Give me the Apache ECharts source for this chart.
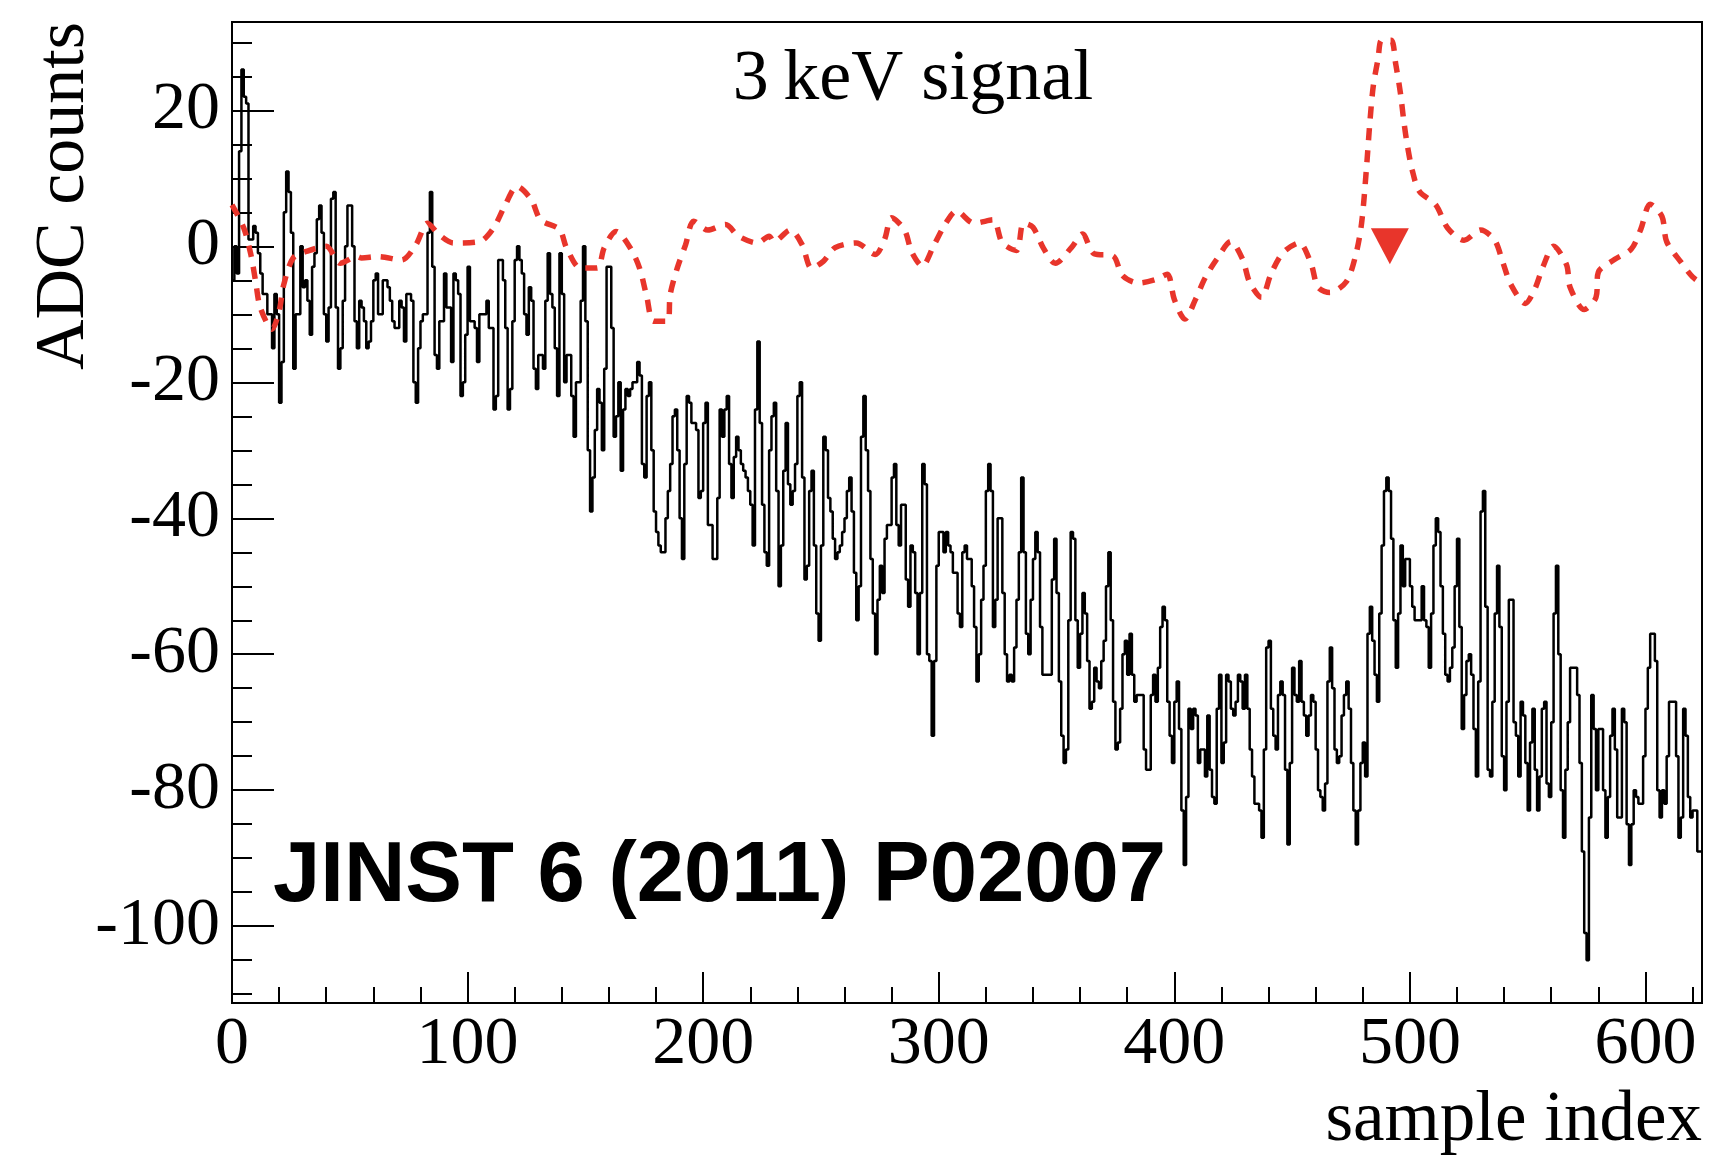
<!DOCTYPE html>
<html><head><meta charset="utf-8">
<script src="https://cdn.jsdelivr.net/npm/echarts@6/dist/echarts.min.js"></script>
<style>html,body{margin:0;padding:0;background:#fff}#c{width:1711px;height:1155px}</style>
</head><body><div id="c"></div>
<script>
// ADC counts per sample (sample index 0..623)
const adcCounts = [
 -5, 0, -4, 14, 26, 22, 21, 1, 1, 3, 2, -1, -4, -7, -7, -10, -10, -15, -7, -10,
 -23, -17, 5, 11, 8, 2, -18, -10, -10, 0, -6, -5, -8, -13, -3, -1, 4, 6, 2, -10,
 -14, -9, 7, 8, -9, -18, -15, -8, 0, 6, 6, 0, -11, -15, -8, -9, -11, -15,
 -14, -11, -5, -4, -10, -10, -5, -5, -6, -8, -11, -12, -12, -8, -9, -14, -7, -7, -8, -20,
 -23, -15, -11, -10, -10, 2, 8, -3, -16, -18, -11, -11, -4, -9, -9, -17, -4, -5, -7, -22,
 -20, -13, -3, -11, -11, -12, -17, -10, -10, -10, -8, -12, -12, -24, -22, -2, -2,
 -5, -12, -24, -21, -11, -2, 0, -2, -4, -10, -13, -6, -8, -18, -21, -16, -16, -18, -8, -1,
 -7, -9, -15, -22, -1, -7, -20, -16, -16, -22, -28, -20, -20, -8, 0, -11, -30, -39, -34, -27,
 -21, -23, -30, -18, -3, -3, -12, -28, -25, -20, -33, -24, -21, -22, -21, -20, -20,
 -17, -19, -32, -34, -22, -20, -30, -39, -42, -44, -45, -45, -40, -36, -32, -25, -24, -30, -40, -46,
 -32, -22, -23, -26, -26, -27, -37, -36, -26, -23, -41, -41, -46, -46, -37, -24, -28, -24, -22, -32,
 -37, -31, -28, -30, -32, -33, -34, -36, -38, -44, -24, -14, -26, -38, -45, -47, -30,
 -25, -23, -36, -50, -44, -33, -26, -35, -38, -36, -32, -22, -20, -34, -49, -47, -36, -33, -44, -54,
 -58, -44, -28, -30, -37, -39, -43, -46, -45, -44, -42, -40, -36, -34, -39, -48, -55, -50, -28, -22,
 -30, -36, -46, -54, -60, -52, -47, -51, -43, -41, -41, -34, -32, -41, -44, -38, -38,
 -49, -53, -44, -45, -51, -60, -51, -32, -35, -60, -61, -72, -61, -47, -42, -42, -45, -42, -44, -45,
 -48, -48, -54, -56, -45, -44, -46, -46, -50, -56, -64, -60, -52, -47, -36, -32, -36, -56, -52, -40,
 -40, -51, -60, -64, -63, -64, -59, -52, -45, -34, -45, -57, -60, -52, -46, -42,
 -45, -56, -63, -63, -63, -63, -49, -43, -51, -64, -72, -76, -74, -55, -42, -43, -55, -62, -57, -51,
 -54, -61, -68, -67, -62, -64, -65, -61, -58, -50, -45, -55, -67, -74, -73, -68, -60, -58, -63, -57,
 -63, -67, -66, -66, -66, -74, -77, -77, -66, -63, -67, -62, -56, -53, -55, -67, -72,
 -76, -67, -64, -71, -83, -91, -81, -68, -71, -68, -69, -76, -74, -74, -78, -69, -77, -81, -82, -68,
 -63, -76, -73, -63, -64, -68, -69, -67, -63, -64, -68, -63, -68, -74, -78, -82, -82, -83, -87, -74,
 -59, -58, -68, -72, -74, -66, -64, -66, -77, -88, -76, -62, -66, -67, -61, -67, -69,
 -72, -69, -66, -67, -74, -80, -81, -83, -79, -64, -59, -65, -74, -76, -75, -69, -66, -64, -68, -76,
 -83, -88, -83, -76, -73, -78, -57, -53, -58, -63, -67, -54, -44, -36, -34, -36, -43, -55, -62, -54,
 -44, -50, -46, -46, -50, -53, -55, -55, -55, -50, -55, -56, -62, -54, -44, -40, -42,
 -50, -57, -63, -64, -62, -59, -50, -43, -56, -71, -66, -61, -60, -63, -71, -78, -64, -39, -36, -53,
 -77, -78, -67, -54, -47, -56, -75, -80, -67, -52, -52, -70, -72, -78, -67, -69, -76, -83, -73, -68,
 -77, -83, -78, -68, -67, -79, -81, -70, -54, -47, -60, -80, -87, -77, -70, -62, -62,
 -62, -66, -76, -89, -101, -105, -84, -66, -71, -80, -71, -71, -80, -87, -81, -72, -68, -74, -84, -84,
 -68, -70, -85, -91, -85, -80, -81, -82, -82, -75, -68, -62, -57, -57, -61, -80, -84, -80, -82, -75,
 -67, -67, -67, -75, -87, -84, -68, -72, -81, -84, -83, -83, -89, -89
];
// Filtered (red dashed) signal: sample positions and values
const filteredX = [0, 5, 8, 10, 12, 17, 20, 22, 26, 32, 40, 46, 53, 55, 62, 72, 78, 83, 88, 94,
 105, 111, 116, 121, 127, 131, 139, 142, 148, 155, 158, 163, 169, 173, 176, 179, 185, 186, 189, 192.5,
 196, 202, 209.5, 215, 223, 228, 230, 237, 242, 246, 251, 256, 265, 273, 277, 280, 285.5, 288.5, 293, 298,
 303, 307.5, 315, 323, 327, 333, 336, 340, 344.5, 349.5, 356.5, 361, 366, 374, 378, 385, 392, 397, 400, 404.5,
 409, 413, 418, 424, 429, 432, 437, 441, 446, 453, 458, 461, 466, 473, 477, 479.5, 481.5, 483, 484.5, 486.5,
 488, 492, 494, 496, 497.5, 499, 501, 504, 511, 516, 523, 530, 536, 539.5, 543, 549, 553, 556.5, 561, 566.5,
 568, 574, 579, 580, 587, 594, 598, 602, 607, 609, 615, 620, 624];
const filteredY = [6.1, 2.7, -1.2, -5.1, -9.0, -12.2, -9.5, -5.6, -1.7, -0.7, 0, -2.5, -1.5, -1.7, -1.5, -2, 0.2, 3.4, 1.7, 0.5,
 0.7, 2.7, 6.1, 8.8, 6.9, 3.9, 2.5, -0.2, -3.2, -3.2, -0.2, 2.2, -0.2, -3.2, -7.3, -11, -11, -7.1, -3.2, 0.2,
 3.7, 2.4, 3.2, 1.5, 0.5, 1.5, 0.7, 2.4, 0.25, -3.2, -2.2, -0.2, 0.5, -1.2, 1, 4.2, 2.4, -0.8, -2.9, 0.2,
 3.4, 5.2, 3.4, 3.9, 0.5, -0.6, 3.4, 2.8, -0.3, -2.5, -0.1, 1.8, -1.1, -1.4, -4.3, -5.4, -4.9, -4.1, -7.8, -10.7,
 -7.8, -4.7, -1.9, 0.7, -1.9, -5.3, -7.5, -4.1, -1, 0.5, -2.5, -6, -6.8, -5.2, -1.3, 3.4, 11.2, 18.2, 23.7, 27.6,
 30.3, 30.3, 26.8, 22.5, 18.2, 14.7, 11.2, 8.1, 6.1, 2.7, 0.9, 2.4, 0.9, -2.4, -5.7, -8.4, -6.3, -3, 0, -2.7,
 -6, -9.3, -7.5, -3.8, -1.9, -0.4, 2.5, 6.2, 4.4, 0.7, -2.3, -4.5, -5.5];
// Trigger marker
const markerX = [491.5];
const markerY = [0];
// Axis ticks
const xMajorTicks = [0, 100, 200, 300, 400, 500, 600];
const xMinorTicks = [0, 20, 40, 60, 80, 100, 120, 140, 160, 180, 200, 220, 240, 260, 280, 300, 320, 340, 360, 380, 400, 420, 440, 460, 480, 500, 520, 540, 560, 580, 600, 620];
const yMajorTicks = [-100, -80, -60, -40, -20, 0, 20];
const yMinorTicks = [-110, -105, -100, -95, -90, -85, -80, -75, -70, -65, -60, -55, -50, -45, -40, -35, -30, -25, -20, -15, -10, -5, 0, 5, 10, 15, 20, 25, 30];
const xRange = [0, 624];
const yRange = [-111.3, 33];
const texts = { title: '3\u2009keV signal', xName: 'sample index', yName: 'ADC counts', stamp: 'JINST 6 (2011) P02007' };

const histData = adcCounts.map((v, i) => [i, v]);
histData.push([adcCounts.length, adcCounts[adcCounts.length - 1]]);
const redData = filteredX.map((x, i) => [x, filteredY[i]]);
const markData = markerX.map((x, i) => [x, markerY[i]]);

const serif = 'Liberation Serif, DejaVu Serif, serif';
const RED = '#e8352b';
const chart = echarts.init(document.getElementById('c'), null, { renderer: 'canvas' });
const tickLine = { color: '#000', width: 2 };
chart.setOption({
  animation: false,
  backgroundColor: '#fff',
  grid: { left: 232, right: 9, top: 22, bottom: 152, show: true, borderColor: '#000', borderWidth: 2, containLabel: false, outerBoundsMode: 'none' },
  xAxis: [
    { type: 'value', position: 'bottom', min: xRange[0], max: xRange[1],
      axisLine: { show: true, onZero: false, lineStyle: tickLine },
      axisTick: { show: true, inside: true, length: 31, customValues: xMajorTicks, lineStyle: tickLine },
      axisLabel: { show: true, customValues: xMajorTicks, margin: 8, color: '#000', fontFamily: serif, fontSize: 68 },
      splitLine: { show: false } },
    { type: 'value', position: 'bottom', min: xRange[0], max: xRange[1],
      axisLine: { show: false, onZero: false },
      axisTick: { show: true, inside: true, length: 16, customValues: xMinorTicks, lineStyle: tickLine },
      axisLabel: { show: false }, splitLine: { show: false } }
  ],
  yAxis: [
    { type: 'value', position: 'left', min: yRange[0], max: yRange[1],
      axisLine: { show: true, onZero: false, lineStyle: tickLine },
      axisTick: { show: true, inside: true, length: 42, customValues: yMajorTicks, lineStyle: tickLine },
      axisLabel: { show: true, customValues: yMajorTicks, margin: 12, color: '#000', fontFamily: serif, fontSize: 68 },
      splitLine: { show: false } },
    { type: 'value', position: 'left', min: yRange[0], max: yRange[1],
      axisLine: { show: false, onZero: false },
      axisTick: { show: true, inside: true, length: 20, customValues: yMinorTicks, lineStyle: tickLine },
      axisLabel: { show: false }, splitLine: { show: false } }
  ],
  series: [
    { type: 'line', xAxisIndex: 0, yAxisIndex: 0, data: histData, step: 'end', showSymbol: false, symbol: 'none',
      lineStyle: { color: '#000', width: 2.5 }, clip: true, z: 2 },
    { type: 'line', xAxisIndex: 0, yAxisIndex: 0, data: redData, smooth: 0.3, showSymbol: false, symbol: 'none',
      lineStyle: { color: RED, width: 5.5, type: [12, 10] }, clip: true, z: 3 },
    { type: 'scatter', xAxisIndex: 0, yAxisIndex: 0, data: markData, symbol: 'triangle', symbolRotate: 180,
      symbolSize: [38, 36], itemStyle: { color: RED, opacity: 1 }, z: 4 }
  ],
  graphic: [
    { type: 'text', x: 913, y: 80, z: 10, style: { text: texts.title, fontFamily: serif, fontSize: 72, fill: '#000', textAlign: 'center', textVerticalAlign: 'middle' } },
    { type: 'text', x: 1702, y: 1121, z: 10, style: { text: texts.xName, fontFamily: serif, fontSize: 71, fill: '#000', textAlign: 'right', textVerticalAlign: 'middle' } },
    { type: 'text', x: 65, y: 22, rotation: Math.PI / 2, z: 10, style: { text: texts.yName, fontFamily: serif, fontSize: 70, fill: '#000', textAlign: 'right', textVerticalAlign: 'middle' } },
    { type: 'text', x: 273, y: 878, z: 10, style: { text: texts.stamp, fontFamily: 'Liberation Sans, Arial, sans-serif', fontWeight: 'bold', fontSize: 85, fill: '#000', textAlign: 'left', textVerticalAlign: 'middle' } }
  ]
});
</script>
</body></html>
